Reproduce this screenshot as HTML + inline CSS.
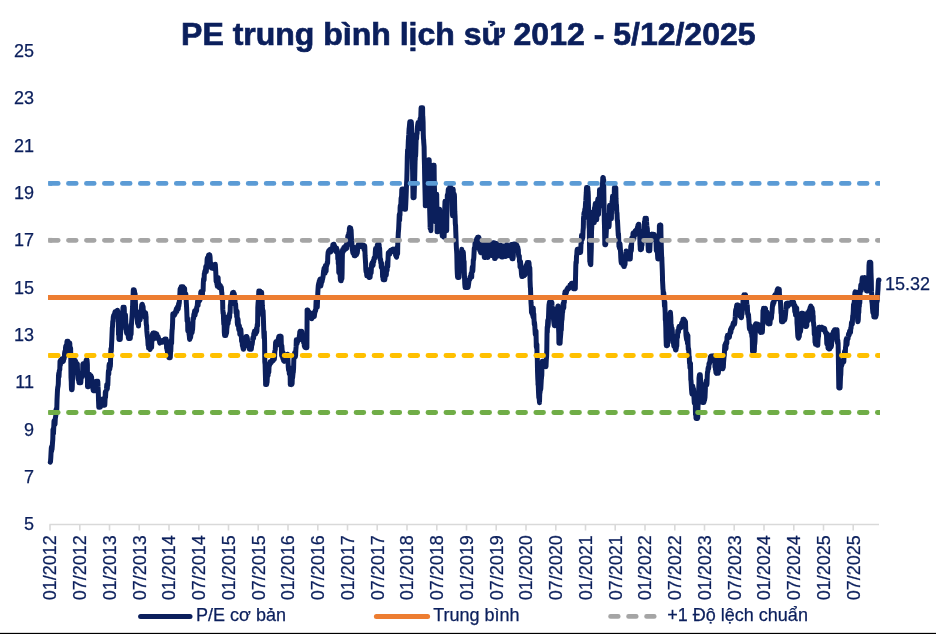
<!DOCTYPE html>
<html lang="vi"><head><meta charset="utf-8"><title>PE trung bình lịch sử</title>
<style>
html,body{margin:0;padding:0;background:#fff;}
body{width:936px;height:634px;overflow:hidden;position:relative;font-family:"Liberation Sans",sans-serif;}
svg{position:absolute;left:0;top:0;display:block;will-change:transform;}
text{font-family:"Liberation Sans",sans-serif;fill:#0b1f5c;stroke:#0b1f5c;stroke-width:0.25px;}
</style></head><body>
<svg width="936" height="634" viewBox="0 0 936 634">
<defs><clipPath id="cp"><rect x="48" y="0" width="832" height="634"/></clipPath></defs>
<rect x="0" y="0" width="936" height="634" fill="#ffffff"/>
<text x="468.3" y="44.6" text-anchor="middle" font-size="32" font-weight="bold" style="stroke-width:0.7px">PE trung bình lịch sử 2012 - 5/12/2025</text>
<text x="34" text-anchor="end" y="530.1" font-size="18">5</text>
<text x="34" text-anchor="end" y="482.8" font-size="18">7</text>
<text x="34" text-anchor="end" y="435.5" font-size="18">9</text>
<text x="34" text-anchor="end" y="388.2" font-size="18">11</text>
<text x="34" text-anchor="end" y="340.9" font-size="18">13</text>
<text x="34" text-anchor="end" y="293.6" font-size="18">15</text>
<text x="34" text-anchor="end" y="246.3" font-size="18">17</text>
<text x="34" text-anchor="end" y="199.0" font-size="18">19</text>
<text x="34" text-anchor="end" y="151.7" font-size="18">21</text>
<text x="34" text-anchor="end" y="104.4" font-size="18">23</text>
<text x="34" text-anchor="end" y="57.1" font-size="18">25</text>
<path d="M49.5,524.5 H879" stroke="#d9d9d9" stroke-width="1.6" fill="none"/>
<path d="M50.0,524.5 V530.5" stroke="#d9d9d9" stroke-width="1.6" fill="none"/>
<text transform="translate(56.4,600.3) rotate(-90)" font-size="18">01/2012</text>
<path d="M79.8,524.5 V530.5" stroke="#d9d9d9" stroke-width="1.6" fill="none"/>
<text transform="translate(86.2,600.3) rotate(-90)" font-size="18">07/2012</text>
<path d="M109.5,524.5 V530.5" stroke="#d9d9d9" stroke-width="1.6" fill="none"/>
<text transform="translate(115.9,600.3) rotate(-90)" font-size="18">01/2013</text>
<path d="M139.2,524.5 V530.5" stroke="#d9d9d9" stroke-width="1.6" fill="none"/>
<text transform="translate(145.7,600.3) rotate(-90)" font-size="18">07/2013</text>
<path d="M169.0,524.5 V530.5" stroke="#d9d9d9" stroke-width="1.6" fill="none"/>
<text transform="translate(175.4,600.3) rotate(-90)" font-size="18">01/2014</text>
<path d="M198.8,524.5 V530.5" stroke="#d9d9d9" stroke-width="1.6" fill="none"/>
<text transform="translate(205.2,600.3) rotate(-90)" font-size="18">07/2014</text>
<path d="M228.5,524.5 V530.5" stroke="#d9d9d9" stroke-width="1.6" fill="none"/>
<text transform="translate(234.9,600.3) rotate(-90)" font-size="18">01/2015</text>
<path d="M258.2,524.5 V530.5" stroke="#d9d9d9" stroke-width="1.6" fill="none"/>
<text transform="translate(264.6,600.3) rotate(-90)" font-size="18">07/2015</text>
<path d="M288.0,524.5 V530.5" stroke="#d9d9d9" stroke-width="1.6" fill="none"/>
<text transform="translate(294.4,600.3) rotate(-90)" font-size="18">01/2016</text>
<path d="M317.8,524.5 V530.5" stroke="#d9d9d9" stroke-width="1.6" fill="none"/>
<text transform="translate(324.1,600.3) rotate(-90)" font-size="18">07/2016</text>
<path d="M347.5,524.5 V530.5" stroke="#d9d9d9" stroke-width="1.6" fill="none"/>
<text transform="translate(353.9,600.3) rotate(-90)" font-size="18">01/2017</text>
<path d="M377.2,524.5 V530.5" stroke="#d9d9d9" stroke-width="1.6" fill="none"/>
<text transform="translate(383.6,600.3) rotate(-90)" font-size="18">07/2017</text>
<path d="M407.0,524.5 V530.5" stroke="#d9d9d9" stroke-width="1.6" fill="none"/>
<text transform="translate(413.4,600.3) rotate(-90)" font-size="18">01/2018</text>
<path d="M436.8,524.5 V530.5" stroke="#d9d9d9" stroke-width="1.6" fill="none"/>
<text transform="translate(443.1,600.3) rotate(-90)" font-size="18">07/2018</text>
<path d="M466.5,524.5 V530.5" stroke="#d9d9d9" stroke-width="1.6" fill="none"/>
<text transform="translate(472.9,600.3) rotate(-90)" font-size="18">01/2019</text>
<path d="M496.2,524.5 V530.5" stroke="#d9d9d9" stroke-width="1.6" fill="none"/>
<text transform="translate(502.6,600.3) rotate(-90)" font-size="18">07/2019</text>
<path d="M526.0,524.5 V530.5" stroke="#d9d9d9" stroke-width="1.6" fill="none"/>
<text transform="translate(532.4,600.3) rotate(-90)" font-size="18">01/2020</text>
<path d="M555.8,524.5 V530.5" stroke="#d9d9d9" stroke-width="1.6" fill="none"/>
<text transform="translate(562.1,600.3) rotate(-90)" font-size="18">07/2020</text>
<path d="M585.5,524.5 V530.5" stroke="#d9d9d9" stroke-width="1.6" fill="none"/>
<text transform="translate(591.9,600.3) rotate(-90)" font-size="18">01/2021</text>
<path d="M615.2,524.5 V530.5" stroke="#d9d9d9" stroke-width="1.6" fill="none"/>
<text transform="translate(621.6,600.3) rotate(-90)" font-size="18">07/2021</text>
<path d="M645.0,524.5 V530.5" stroke="#d9d9d9" stroke-width="1.6" fill="none"/>
<text transform="translate(651.4,600.3) rotate(-90)" font-size="18">01/2022</text>
<path d="M674.8,524.5 V530.5" stroke="#d9d9d9" stroke-width="1.6" fill="none"/>
<text transform="translate(681.1,600.3) rotate(-90)" font-size="18">07/2022</text>
<path d="M704.5,524.5 V530.5" stroke="#d9d9d9" stroke-width="1.6" fill="none"/>
<text transform="translate(710.9,600.3) rotate(-90)" font-size="18">01/2023</text>
<path d="M734.2,524.5 V530.5" stroke="#d9d9d9" stroke-width="1.6" fill="none"/>
<text transform="translate(740.6,600.3) rotate(-90)" font-size="18">07/2023</text>
<path d="M764.0,524.5 V530.5" stroke="#d9d9d9" stroke-width="1.6" fill="none"/>
<text transform="translate(770.4,600.3) rotate(-90)" font-size="18">01/2024</text>
<path d="M793.8,524.5 V530.5" stroke="#d9d9d9" stroke-width="1.6" fill="none"/>
<text transform="translate(800.1,600.3) rotate(-90)" font-size="18">07/2024</text>
<path d="M823.5,524.5 V530.5" stroke="#d9d9d9" stroke-width="1.6" fill="none"/>
<text transform="translate(829.9,600.3) rotate(-90)" font-size="18">01/2025</text>
<path d="M853.2,524.5 V530.5" stroke="#d9d9d9" stroke-width="1.6" fill="none"/>
<text transform="translate(859.6,600.3) rotate(-90)" font-size="18">07/2025</text>
<path d="M50.3,462.1 L50.5,461.6 L50.8,457.6 L51.0,453.7 L51.3,448.1 L51.5,446.8 L51.5,451.6 L51.8,449.6 L52.0,449.6 L52.3,445.7 L52.5,442.8 L52.8,439.2 L53.0,429.4 L53.2,432.6 L53.3,433.7 L53.5,433.5 L53.8,426.2 L54.0,421.3 L54.3,420.4 L54.5,420.4 L54.8,422.6 L55.0,422.5 L55.0,424.3 L55.3,418.6 L55.5,417.3 L55.8,415.6 L56.0,409.6 L56.3,413.3 L56.5,410.0 L56.8,409.0 L57.0,400.6 L57.3,393.8 L57.5,389.9 L57.8,387.1 L58.0,386.8 L58.3,384.0 L58.4,380.4 L58.5,375.8 L58.8,373.1 L59.0,376.9 L59.3,370.9 L59.5,370.2 L59.8,369.5 L60.0,361.2 L60.3,360.9 L60.4,365.2 L60.5,360.3 L60.8,360.0 L61.0,359.8 L61.3,359.5 L61.5,360.5 L61.8,360.5 L62.0,358.7 L62.3,360.2 L62.5,360.9 L62.8,361.7 L63.0,361.6 L63.3,361.3 L63.5,360.6 L63.8,357.9 L64.0,359.0 L64.3,357.3 L64.5,356.5 L64.5,354.0 L64.8,351.9 L65.0,351.1 L65.3,355.5 L65.5,347.9 L65.8,345.9 L66.0,347.1 L66.3,351.8 L66.5,351.5 L66.8,343.6 L67.0,341.3 L67.3,341.3 L67.5,341.3 L67.8,341.3 L68.0,341.3 L68.0,343.2 L68.3,342.9 L68.5,342.8 L68.8,343.1 L69.0,346.0 L69.2,346.0 L69.3,346.5 L69.5,348.7 L69.8,343.1 L70.0,350.8 L70.3,354.9 L70.5,356.6 L70.6,347.9 L70.8,358.5 L71.0,377.4 L71.3,382.6 L71.3,384.5 L71.5,389.7 L71.8,386.3 L72.0,389.7 L72.1,389.7 L72.3,386.4 L72.5,379.3 L72.8,373.2 L73.0,364.7 L73.1,366.3 L73.3,361.6 L73.5,360.1 L73.8,361.2 L74.0,361.0 L74.3,359.8 L74.5,361.8 L74.8,364.0 L75.0,362.7 L75.3,360.5 L75.5,361.3 L75.8,362.0 L76.0,362.3 L76.3,365.7 L76.5,363.0 L76.8,367.4 L77.0,363.8 L77.3,363.7 L77.5,369.5 L77.8,375.4 L78.0,378.7 L78.3,379.5 L78.5,380.0 L78.8,381.0 L79.0,382.7 L79.3,382.7 L79.5,382.7 L79.8,382.7 L80.0,382.7 L80.3,382.7 L80.5,382.7 L80.5,382.7 L80.8,382.7 L81.0,379.9 L81.3,376.5 L81.5,375.2 L81.8,377.1 L82.0,373.1 L82.3,372.7 L82.5,376.7 L82.8,364.5 L83.0,363.9 L83.0,364.2 L83.3,365.5 L83.5,365.8 L83.8,364.6 L84.0,365.5 L84.3,365.3 L84.5,363.6 L84.8,366.3 L85.0,365.9 L85.3,363.5 L85.5,362.6 L85.8,361.7 L86.0,361.2 L86.3,359.8 L86.5,359.8 L86.6,359.9 L86.8,359.8 L87.0,359.8 L87.3,363.2 L87.4,365.2 L87.5,386.7 L87.6,384.8 L87.8,384.0 L88.0,383.6 L88.3,385.7 L88.4,386.7 L88.5,379.9 L88.8,383.9 L89.0,377.6 L89.3,380.5 L89.5,374.3 L89.8,375.7 L90.0,378.8 L90.3,376.3 L90.4,375.9 L90.5,377.0 L90.8,376.4 L91.0,375.7 L91.3,378.1 L91.5,379.4 L91.6,376.9 L91.8,386.2 L92.0,380.1 L92.3,384.6 L92.5,383.8 L92.8,385.5 L93.0,389.3 L93.3,390.6 L93.5,390.7 L93.6,388.1 L93.8,385.8 L94.0,388.3 L94.3,388.0 L94.5,387.3 L94.8,385.7 L95.0,389.2 L95.3,390.0 L95.5,390.7 L95.8,386.4 L96.0,385.1 L96.3,381.3 L96.5,382.7 L96.7,385.0 L96.8,382.3 L97.0,384.2 L97.3,384.2 L97.5,382.7 L97.8,381.3 L97.9,383.1 L98.0,386.4 L98.3,390.9 L98.5,400.0 L98.8,407.3 L99.0,407.3 L99.3,407.3 L99.5,407.3 L99.8,407.3 L100.0,407.3 L100.0,407.3 L100.3,405.0 L100.5,406.9 L100.8,404.9 L101.0,403.2 L101.3,404.5 L101.4,401.9 L101.5,399.3 L101.8,399.3 L102.0,399.3 L102.3,399.3 L102.5,400.0 L102.6,399.3 L102.8,400.1 L103.0,403.1 L103.3,403.5 L103.5,405.2 L103.8,405.2 L103.9,405.2 L104.0,405.2 L104.3,405.2 L104.5,405.2 L104.8,405.2 L105.0,400.7 L105.1,398.9 L105.3,392.1 L105.5,397.7 L105.8,391.8 L106.0,391.6 L106.3,389.9 L106.5,388.5 L106.8,384.6 L107.0,384.3 L107.3,388.8 L107.5,384.6 L107.5,384.8 L107.8,385.1 L108.0,380.3 L108.3,372.9 L108.5,370.4 L108.8,374.1 L109.0,365.8 L109.3,364.0 L109.5,368.0 L109.8,369.0 L110.0,366.1 L110.3,366.5 L110.5,363.9 L110.6,358.1 L110.8,351.0 L111.0,348.5 L111.3,351.4 L111.5,345.7 L111.8,339.6 L112.0,334.8 L112.3,327.6 L112.5,326.9 L112.8,321.1 L113.0,321.6 L113.3,316.9 L113.5,316.2 L113.8,315.4 L114.0,314.7 L114.3,315.5 L114.5,315.2 L114.8,312.6 L115.0,311.9 L115.3,312.5 L115.5,311.9 L115.8,314.0 L116.0,314.8 L116.3,314.8 L116.5,313.7 L116.8,314.3 L117.0,313.8 L117.3,313.1 L117.5,310.3 L117.8,311.7 L118.0,316.1 L118.0,314.6 L118.3,319.8 L118.5,334.6 L118.8,333.3 L118.9,339.0 L119.0,339.4 L119.3,339.4 L119.5,339.4 L119.8,339.4 L120.0,339.4 L120.1,339.4 L120.3,339.4 L120.5,333.9 L120.8,330.9 L121.0,329.5 L121.3,329.5 L121.5,325.3 L121.8,321.2 L122.0,314.7 L122.3,312.1 L122.5,314.0 L122.8,311.2 L123.0,307.3 L123.0,307.3 L123.3,311.2 L123.5,311.2 L123.8,310.9 L124.0,307.3 L124.2,307.3 L124.3,309.9 L124.5,317.7 L124.8,318.7 L125.0,318.4 L125.3,321.2 L125.5,314.8 L125.8,322.6 L126.0,325.6 L126.3,324.5 L126.5,332.1 L126.7,333.5 L126.8,330.4 L127.0,329.0 L127.3,330.9 L127.5,332.1 L127.8,331.8 L128.1,330.7 L128.3,336.9 L128.6,338.4 L128.8,335.1 L129.1,333.0 L129.3,338.1 L129.6,338.4 L129.7,338.4 L129.8,338.4 L130.1,338.4 L130.3,338.4 L130.6,332.2 L130.8,331.7 L130.9,333.9 L131.1,334.2 L131.3,326.6 L131.6,322.2 L131.8,319.6 L132.1,315.7 L132.3,312.2 L132.6,306.5 L132.8,299.2 L133.1,296.7 L133.2,292.5 L133.3,289.8 L133.6,289.8 L133.8,289.8 L134.1,289.8 L134.3,290.3 L134.4,290.4 L134.6,292.8 L134.8,295.2 L135.1,293.7 L135.3,300.1 L135.6,307.4 L135.8,310.7 L136.1,311.7 L136.3,315.8 L136.6,314.3 L136.8,311.3 L137.1,317.8 L137.3,319.3 L137.6,323.6 L137.8,322.8 L138.1,320.4 L138.3,320.3 L138.5,326.1 L138.6,324.6 L138.8,318.2 L139.1,315.6 L139.3,317.9 L139.6,318.4 L139.8,316.9 L140.1,319.9 L140.3,318.2 L140.6,313.8 L140.8,312.6 L141.1,314.9 L141.3,312.4 L141.4,311.2 L141.6,305.9 L141.8,304.8 L142.1,305.1 L142.3,304.2 L142.6,305.8 L142.6,306.0 L142.8,307.6 L143.1,306.7 L143.3,311.1 L143.6,312.0 L143.8,311.8 L144.1,311.4 L144.3,314.6 L144.6,314.5 L144.8,316.0 L145.1,317.5 L145.3,316.3 L145.6,312.8 L145.8,314.9 L146.1,317.1 L146.1,320.8 L146.3,324.4 L146.6,325.6 L146.8,330.7 L147.1,334.0 L147.3,336.1 L147.6,338.2 L147.8,339.7 L148.1,345.4 L148.3,343.8 L148.6,345.8 L148.6,347.9 L148.8,344.4 L149.1,345.9 L149.3,345.4 L149.6,346.3 L149.8,348.8 L150.1,349.5 L150.3,348.1 L150.6,346.3 L150.8,341.5 L151.1,347.3 L151.3,346.7 L151.6,347.5 L151.8,342.0 L152.1,340.3 L152.3,334.3 L152.6,337.5 L152.8,339.4 L153.1,332.9 L153.3,332.9 L153.6,334.0 L153.7,332.9 L153.8,332.9 L154.1,332.9 L154.3,332.9 L154.6,332.9 L154.8,332.9 L154.9,332.9 L155.1,334.2 L155.3,335.7 L155.6,337.7 L155.8,338.2 L156.1,335.9 L156.3,335.4 L156.6,334.3 L156.8,334.2 L157.1,335.5 L157.3,336.8 L157.6,338.6 L157.8,336.3 L158.1,336.5 L158.3,337.6 L158.6,338.6 L158.8,339.2 L159.1,340.2 L159.3,339.8 L159.6,342.1 L159.8,343.1 L159.9,343.0 L160.1,342.1 L160.3,342.2 L160.6,341.1 L160.8,341.4 L161.1,341.2 L161.1,341.1 L161.3,341.3 L161.6,341.8 L161.8,340.6 L162.1,340.5 L162.3,340.5 L162.6,341.4 L162.8,342.1 L163.1,341.6 L163.3,340.2 L163.6,340.1 L163.8,340.1 L164.1,341.1 L164.3,341.0 L164.6,339.6 L164.8,339.0 L165.0,339.0 L165.1,339.0 L165.3,339.0 L165.6,339.0 L165.8,339.0 L166.1,339.0 L166.2,340.5 L166.3,339.7 L166.6,348.5 L166.8,346.1 L167.1,350.4 L167.3,350.1 L167.6,354.1 L167.8,344.5 L168.1,345.2 L168.3,349.8 L168.6,354.3 L168.8,357.7 L169.1,357.7 L169.1,357.7 L169.3,357.7 L169.6,357.7 L169.8,357.7 L170.1,357.7 L170.3,357.7 L170.6,350.5 L170.8,351.5 L171.1,342.5 L171.3,339.9 L171.6,343.5 L171.8,335.5 L172.1,329.9 L172.3,329.0 L172.6,322.6 L172.8,314.1 L173.1,315.0 L173.3,315.8 L173.6,315.9 L173.8,313.5 L174.1,315.6 L174.3,315.3 L174.6,314.9 L174.8,314.0 L175.1,312.2 L175.3,313.8 L175.6,311.4 L175.8,311.9 L176.1,310.3 L176.3,308.8 L176.6,310.2 L176.8,311.6 L176.9,311.0 L177.1,307.8 L177.3,309.1 L177.6,306.9 L177.8,306.3 L178.1,309.1 L178.3,308.7 L178.6,303.6 L178.8,306.3 L179.1,303.8 L179.3,302.9 L179.6,297.6 L179.8,295.7 L180.1,288.9 L180.3,295.2 L180.6,297.2 L180.8,290.0 L181.1,286.7 L181.3,286.7 L181.4,286.7 L181.6,286.7 L181.8,286.7 L182.1,286.7 L182.3,286.7 L182.6,286.7 L182.6,286.7 L182.8,286.7 L183.1,286.7 L183.3,287.8 L183.6,289.0 L183.8,288.8 L184.1,287.9 L184.3,289.0 L184.6,288.6 L184.8,293.9 L185.0,295.4 L185.1,293.6 L185.3,293.5 L185.6,293.6 L185.8,293.9 L186.1,297.3 L186.3,302.6 L186.6,307.7 L186.8,312.0 L187.1,321.1 L187.3,317.5 L187.6,319.0 L187.8,331.0 L188.1,322.4 L188.3,323.2 L188.6,327.2 L188.8,330.6 L189.1,334.5 L189.3,335.7 L189.6,339.4 L189.6,339.4 L189.8,339.4 L190.1,337.4 L190.3,336.9 L190.6,337.6 L190.8,335.4 L191.1,331.5 L191.3,334.1 L191.6,330.3 L191.8,331.9 L192.1,332.5 L192.3,330.6 L192.6,329.4 L192.8,325.8 L193.1,318.2 L193.3,317.8 L193.6,318.6 L193.8,314.8 L194.1,313.4 L194.3,314.5 L194.6,310.9 L194.8,312.2 L195.1,315.2 L195.3,311.7 L195.6,310.8 L195.8,309.4 L196.1,311.8 L196.3,310.5 L196.6,310.6 L196.8,307.1 L197.1,306.2 L197.3,305.3 L197.6,300.9 L197.8,304.7 L198.1,305.5 L198.3,300.3 L198.6,302.1 L198.8,301.1 L199.1,301.4 L199.3,301.2 L199.6,296.9 L199.8,296.7 L200.1,299.9 L200.3,297.3 L200.6,294.5 L200.8,292.1 L201.1,291.5 L201.3,292.3 L201.6,296.1 L201.8,295.5 L202.1,294.6 L202.3,295.9 L202.5,294.3 L202.6,290.7 L202.8,291.0 L203.1,290.6 L203.3,284.0 L203.6,278.8 L203.8,280.2 L204.1,280.2 L204.3,273.9 L204.6,273.4 L204.8,271.2 L205.1,272.8 L205.3,270.9 L205.6,269.2 L205.8,266.5 L206.1,269.3 L206.3,271.5 L206.6,265.7 L206.8,266.0 L207.1,259.6 L207.3,258.1 L207.6,258.2 L207.6,260.7 L207.8,258.0 L208.1,257.0 L208.3,256.7 L208.6,255.0 L208.8,255.0 L209.1,255.0 L209.3,258.3 L209.6,255.9 L209.8,255.0 L210.1,257.4 L210.3,262.0 L210.6,262.7 L210.8,267.5 L210.9,267.4 L211.1,266.4 L211.3,267.6 L211.6,266.2 L211.8,266.1 L212.1,266.8 L212.1,268.2 L212.3,267.6 L212.6,267.6 L212.8,266.1 L213.1,266.5 L213.3,268.5 L213.6,266.3 L213.8,267.8 L214.1,266.4 L214.1,265.8 L214.3,265.7 L214.6,266.4 L214.8,264.4 L215.1,264.3 L215.3,264.3 L215.6,269.1 L215.8,272.5 L216.1,281.3 L216.3,280.7 L216.6,280.5 L216.8,283.7 L217.1,284.3 L217.3,286.3 L217.6,284.1 L217.8,284.6 L218.1,277.4 L218.3,281.9 L218.6,283.0 L218.8,285.4 L219.1,287.6 L219.3,287.7 L219.6,287.0 L219.8,286.3 L220.1,285.6 L220.3,285.4 L220.6,287.1 L220.8,287.3 L221.1,287.7 L221.3,287.3 L221.6,291.0 L221.6,291.6 L221.8,292.7 L222.1,298.2 L222.3,300.0 L222.6,299.0 L222.8,309.4 L223.1,313.5 L223.3,312.4 L223.6,320.5 L223.8,324.3 L224.1,321.1 L224.3,332.2 L224.6,335.4 L224.7,335.4 L224.8,335.4 L225.1,335.4 L225.3,334.5 L225.6,335.4 L225.8,335.4 L225.9,334.5 L226.1,334.5 L226.3,332.7 L226.6,333.0 L226.8,328.8 L227.1,326.7 L227.3,317.2 L227.6,316.9 L227.8,320.0 L228.1,323.6 L228.3,318.9 L228.6,316.2 L228.8,320.1 L229.1,314.8 L229.3,314.7 L229.6,317.4 L229.8,312.4 L230.1,312.9 L230.3,305.6 L230.6,303.8 L230.8,300.9 L231.1,299.2 L231.3,301.2 L231.6,303.9 L231.8,297.5 L232.1,294.7 L232.3,294.6 L232.6,292.7 L232.8,293.6 L233.0,294.5 L233.1,293.6 L233.3,296.0 L233.6,292.3 L233.8,296.9 L234.1,293.4 L234.3,294.3 L234.6,295.8 L234.8,297.6 L235.1,303.0 L235.3,304.4 L235.6,304.2 L235.8,307.5 L236.1,313.1 L236.3,312.1 L236.6,313.2 L236.7,316.9 L236.8,316.0 L237.1,311.2 L237.3,322.6 L237.6,325.0 L237.8,318.5 L238.1,319.8 L238.3,322.9 L238.6,327.4 L238.8,329.7 L239.1,328.3 L239.3,325.4 L239.6,328.4 L239.8,334.3 L240.1,330.8 L240.3,329.6 L240.6,333.2 L240.8,329.2 L241.1,333.3 L241.3,335.9 L241.6,341.3 L241.8,341.1 L242.1,341.2 L242.3,343.8 L242.4,346.0 L242.6,345.6 L242.8,346.8 L243.1,348.2 L243.3,349.2 L243.6,349.2 L243.6,349.2 L243.8,347.2 L244.1,340.6 L244.3,346.9 L244.6,343.1 L244.8,342.4 L245.1,343.2 L245.3,337.8 L245.6,339.4 L245.8,338.5 L246.1,336.5 L246.2,336.5 L246.3,338.1 L246.6,336.5 L246.8,336.8 L247.1,337.2 L247.3,338.2 L247.4,338.7 L247.6,342.2 L247.8,341.3 L248.1,345.0 L248.3,343.3 L248.6,346.8 L248.8,344.2 L249.1,345.7 L249.3,349.2 L249.4,349.2 L249.6,349.2 L249.8,347.9 L250.1,347.4 L250.3,348.1 L250.6,349.2 L250.6,349.2 L250.8,349.2 L251.1,347.8 L251.3,349.2 L251.6,346.3 L251.8,343.2 L252.1,344.8 L252.3,343.1 L252.6,340.8 L252.8,338.3 L253.1,337.2 L253.3,338.5 L253.6,338.2 L253.8,333.4 L254.1,334.4 L254.3,334.0 L254.4,331.3 L254.6,333.5 L254.8,332.3 L255.1,331.3 L255.3,332.6 L255.6,334.0 L255.8,331.1 L256.1,331.2 L256.3,328.7 L256.6,332.2 L256.8,331.2 L256.9,331.5 L257.1,326.7 L257.3,324.3 L257.6,326.0 L257.8,308.0 L258.1,302.8 L258.3,301.1 L258.6,296.1 L258.8,291.0 L259.1,297.5 L259.3,295.3 L259.6,292.1 L259.8,293.1 L260.0,291.0 L260.1,292.6 L260.3,292.0 L260.6,293.4 L260.8,297.1 L261.1,297.0 L261.3,293.8 L261.6,292.1 L261.8,297.7 L262.0,300.9 L262.1,297.7 L262.3,305.5 L262.6,310.7 L262.8,316.0 L263.1,310.5 L263.3,315.9 L263.6,325.2 L263.8,331.9 L264.1,338.2 L264.3,331.7 L264.5,338.1 L264.6,343.0 L264.8,361.9 L265.1,364.5 L265.3,372.3 L265.6,382.1 L265.6,384.6 L265.8,384.3 L266.1,384.6 L266.3,384.6 L266.6,384.6 L266.8,383.3 L267.1,382.2 L267.3,377.8 L267.6,371.1 L267.8,376.0 L268.1,375.4 L268.3,371.2 L268.6,370.6 L268.8,372.4 L269.1,365.6 L269.3,364.0 L269.5,364.4 L269.6,365.5 L269.8,363.9 L270.1,361.8 L270.3,363.1 L270.6,363.3 L270.8,363.0 L271.1,362.4 L271.3,362.6 L271.6,361.8 L271.8,360.6 L272.1,360.3 L272.3,359.9 L272.6,359.7 L272.8,358.6 L273.1,360.8 L273.3,357.6 L273.6,359.4 L273.8,354.5 L274.1,355.7 L274.3,359.4 L274.6,356.9 L274.8,351.4 L275.1,350.3 L275.3,349.4 L275.6,342.6 L275.8,341.9 L276.1,342.8 L276.3,342.0 L276.6,342.5 L276.8,343.9 L277.1,344.6 L277.3,345.0 L277.6,344.3 L277.8,341.7 L278.1,340.4 L278.3,338.8 L278.6,337.6 L278.8,336.8 L279.0,336.3 L279.1,336.3 L279.3,336.3 L279.6,336.3 L279.8,336.3 L280.1,337.5 L280.2,336.8 L280.3,343.8 L280.6,336.3 L280.8,337.4 L281.1,336.3 L281.3,343.6 L281.6,355.8 L281.8,345.4 L282.1,349.4 L282.3,354.0 L282.6,354.5 L282.8,358.7 L283.1,352.5 L283.3,359.3 L283.6,360.7 L283.8,360.8 L284.1,360.3 L284.3,361.4 L284.5,360.5 L284.6,360.9 L284.8,359.2 L285.1,355.2 L285.3,355.4 L285.6,356.4 L285.8,358.0 L286.1,355.1 L286.3,354.8 L286.6,355.5 L286.6,355.4 L286.8,356.9 L287.1,358.2 L287.3,355.7 L287.6,354.2 L287.8,355.4 L288.1,363.5 L288.3,367.3 L288.6,370.3 L288.8,368.0 L289.1,367.5 L289.3,374.0 L289.6,372.6 L289.8,369.6 L290.1,371.8 L290.3,384.6 L290.4,384.6 L290.6,384.6 L290.8,384.6 L291.1,384.6 L291.3,383.1 L291.6,384.6 L291.6,384.6 L291.8,380.0 L292.1,383.9 L292.3,378.7 L292.6,377.8 L292.8,375.7 L293.1,372.6 L293.3,372.4 L293.6,367.8 L293.8,360.2 L294.1,356.7 L294.3,354.7 L294.6,352.8 L294.8,354.9 L295.1,355.5 L295.3,356.9 L295.6,355.4 L295.8,350.4 L296.1,346.9 L296.3,339.7 L296.6,340.3 L296.8,342.7 L297.1,343.6 L297.3,340.9 L297.6,339.7 L297.8,341.5 L298.1,340.0 L298.3,340.4 L298.6,340.1 L298.8,338.7 L299.1,340.1 L299.3,336.4 L299.6,334.4 L299.8,331.9 L300.1,331.3 L300.3,333.3 L300.4,335.3 L300.6,334.0 L300.8,333.9 L301.1,334.3 L301.3,334.5 L301.6,335.7 L301.6,331.8 L301.8,331.3 L302.1,334.3 L302.3,339.5 L302.6,339.2 L302.8,336.6 L303.1,337.0 L303.3,337.0 L303.6,337.1 L303.6,342.4 L303.8,340.9 L304.1,341.7 L304.3,346.0 L304.6,346.5 L304.8,347.1 L305.1,345.1 L305.3,346.1 L305.6,347.7 L305.8,347.7 L306.1,347.7 L306.3,347.7 L306.3,347.7 L306.6,347.6 L306.8,347.7 L306.9,347.7 L307.1,315.9 L307.1,310.0 L307.3,310.8 L307.6,310.0 L307.7,310.0 L307.8,311.0 L308.1,314.4 L308.3,314.6 L308.6,314.5 L308.8,311.4 L309.1,315.6 L309.3,315.2 L309.6,314.9 L309.8,313.1 L310.1,314.0 L310.3,312.9 L310.6,314.4 L310.8,316.2 L311.1,316.7 L311.3,317.6 L311.6,316.6 L311.8,318.7 L312.1,318.0 L312.3,316.3 L312.6,316.8 L312.8,316.2 L313.0,315.2 L313.1,315.5 L313.3,316.2 L313.6,312.8 L313.8,312.9 L314.1,316.5 L314.3,316.4 L314.6,314.0 L314.8,312.9 L315.1,311.3 L315.3,310.1 L315.6,311.0 L315.8,309.2 L316.1,300.9 L316.2,302.9 L316.3,301.0 L316.6,303.8 L316.8,300.4 L317.1,300.5 L317.3,307.2 L317.6,298.9 L317.8,293.1 L318.1,287.9 L318.3,285.4 L318.6,283.9 L318.8,283.1 L319.1,282.2 L319.3,281.0 L319.6,280.4 L319.8,279.7 L320.0,279.2 L320.1,279.1 L320.3,280.5 L320.6,283.4 L320.8,286.1 L321.1,284.6 L321.3,283.1 L321.6,281.4 L321.8,282.1 L322.1,281.5 L322.3,280.0 L322.6,279.1 L322.8,278.0 L323.1,276.5 L323.3,274.3 L323.6,270.9 L323.8,270.3 L324.1,268.2 L324.3,271.4 L324.6,272.1 L324.8,268.3 L325.0,272.1 L325.1,273.2 L325.3,265.8 L325.6,271.0 L325.8,270.9 L326.1,271.1 L326.3,266.1 L326.6,265.9 L326.8,265.1 L327.1,263.5 L327.3,262.1 L327.6,263.3 L327.8,256.4 L328.1,252.6 L328.3,251.7 L328.6,251.2 L328.8,250.6 L329.1,251.5 L329.3,252.2 L329.6,252.0 L329.8,250.3 L330.1,249.4 L330.3,251.4 L330.6,252.0 L330.8,250.8 L331.1,249.1 L331.3,251.5 L331.6,248.5 L331.8,248.9 L332.1,249.9 L332.3,247.6 L332.6,247.8 L332.8,244.8 L333.1,246.1 L333.3,245.8 L333.6,244.3 L333.8,245.2 L334.0,244.3 L334.1,246.4 L334.3,245.3 L334.6,245.9 L334.8,247.4 L335.1,247.3 L335.3,248.7 L335.6,248.1 L335.8,250.7 L336.1,251.0 L336.3,252.0 L336.6,247.9 L336.8,251.8 L337.1,252.8 L337.3,250.0 L337.6,252.1 L337.7,255.0 L337.8,259.3 L338.1,255.8 L338.3,263.9 L338.6,263.4 L338.8,272.6 L339.1,270.3 L339.3,272.5 L339.6,270.7 L339.8,267.7 L340.1,274.6 L340.3,278.8 L340.6,280.7 L340.8,280.7 L341.1,280.7 L341.1,277.7 L341.3,277.3 L341.6,275.9 L341.8,274.6 L341.9,278.9 L342.1,273.0 L342.3,259.3 L342.5,250.2 L342.6,249.6 L342.8,250.3 L343.1,251.5 L343.3,251.7 L343.6,249.7 L343.8,247.4 L344.1,249.6 L344.3,249.2 L344.6,250.0 L344.8,247.2 L345.1,247.0 L345.3,247.2 L345.6,245.7 L345.8,245.5 L346.1,247.0 L346.3,248.7 L346.6,248.5 L346.7,247.2 L346.8,242.4 L347.1,243.9 L347.3,245.7 L347.6,243.5 L347.8,236.1 L348.1,238.4 L348.3,239.2 L348.6,238.1 L348.8,233.1 L349.1,232.1 L349.3,232.0 L349.4,228.7 L349.6,227.6 L349.8,227.6 L350.1,227.8 L350.3,228.0 L350.6,230.2 L350.6,228.0 L350.8,229.3 L351.1,230.1 L351.3,234.5 L351.6,241.5 L351.8,239.8 L352.1,247.7 L352.3,249.4 L352.5,250.8 L352.6,249.8 L352.8,252.9 L353.1,251.5 L353.3,250.5 L353.6,247.1 L353.8,251.4 L354.1,255.7 L354.3,255.7 L354.4,255.7 L354.6,255.7 L354.8,255.7 L355.1,254.4 L355.3,255.7 L355.6,255.0 L355.6,253.3 L355.8,252.2 L356.1,250.9 L356.3,253.2 L356.6,254.7 L356.8,250.3 L357.1,252.2 L357.3,253.0 L357.6,250.1 L357.8,246.3 L358.1,245.2 L358.3,244.6 L358.6,246.0 L358.8,245.1 L359.1,244.3 L359.3,244.3 L359.4,244.3 L359.6,244.3 L359.8,244.3 L360.1,244.3 L360.3,244.3 L360.6,244.3 L360.6,245.3 L360.8,246.2 L361.1,246.5 L361.3,246.5 L361.6,244.4 L361.8,244.4 L362.1,244.4 L362.3,244.6 L362.6,245.4 L362.8,244.9 L363.1,244.9 L363.3,245.1 L363.6,245.2 L363.8,245.3 L364.0,249.7 L364.1,249.4 L364.3,247.0 L364.6,245.7 L364.8,247.2 L365.1,256.0 L365.3,258.8 L365.6,263.5 L365.8,269.2 L366.1,272.1 L366.3,269.0 L366.6,273.4 L366.8,275.8 L367.1,269.7 L367.3,271.0 L367.6,269.5 L367.7,272.8 L367.8,275.8 L368.1,274.4 L368.3,273.4 L368.6,276.4 L368.8,277.2 L368.9,277.4 L369.1,275.1 L369.3,277.1 L369.6,277.4 L369.8,277.4 L370.1,277.2 L370.3,274.8 L370.6,271.7 L370.8,272.7 L371.1,273.0 L371.3,270.1 L371.6,263.9 L371.8,265.6 L372.1,262.8 L372.3,263.8 L372.6,263.0 L372.8,265.8 L373.1,265.1 L373.3,260.9 L373.6,259.9 L373.8,261.9 L374.1,258.1 L374.3,257.5 L374.6,258.6 L374.8,258.1 L375.1,257.3 L375.3,251.9 L375.6,248.4 L375.8,249.5 L376.1,250.1 L376.3,253.6 L376.6,250.0 L376.8,251.2 L377.1,250.8 L377.3,245.1 L377.6,244.3 L377.7,244.3 L377.8,244.3 L378.1,244.3 L378.3,244.8 L378.6,244.3 L378.8,245.2 L378.9,244.3 L379.1,244.3 L379.3,248.4 L379.6,248.1 L379.8,251.7 L380.1,259.4 L380.3,259.1 L380.6,259.1 L380.8,263.0 L381.1,262.1 L381.3,267.5 L381.6,263.0 L381.8,268.0 L382.1,267.6 L382.3,267.1 L382.6,276.8 L382.8,273.9 L383.1,279.7 L383.3,279.7 L383.4,279.7 L383.6,279.7 L383.8,279.7 L384.1,279.7 L384.3,279.7 L384.6,279.7 L384.6,279.7 L384.8,279.7 L385.1,277.2 L385.3,272.9 L385.6,273.5 L385.8,272.8 L386.1,271.2 L386.3,275.1 L386.6,269.5 L386.8,268.3 L387.1,270.5 L387.3,262.3 L387.6,264.1 L387.8,266.7 L388.1,257.9 L388.3,252.9 L388.6,252.7 L388.8,252.4 L389.1,252.1 L389.3,251.8 L389.6,251.9 L389.8,254.3 L390.1,251.3 L390.3,251.3 L390.6,250.4 L390.8,251.1 L391.1,250.2 L391.3,250.2 L391.6,250.6 L391.8,251.3 L392.1,250.4 L392.3,250.3 L392.6,249.4 L392.7,249.7 L392.8,249.3 L393.1,249.3 L393.3,249.3 L393.6,249.3 L393.8,251.7 L393.9,251.1 L394.1,249.3 L394.3,250.8 L394.6,249.5 L394.8,249.3 L395.1,249.3 L395.3,253.1 L395.6,255.1 L395.8,255.7 L396.1,255.0 L396.1,254.0 L396.3,256.9 L396.6,257.1 L396.8,255.2 L397.1,248.2 L397.3,246.7 L397.6,253.8 L397.8,242.6 L398.1,237.4 L398.3,233.0 L398.6,229.6 L398.8,226.0 L399.1,218.7 L399.3,214.3 L399.6,220.3 L399.8,214.0 L400.0,215.3 L400.1,207.8 L400.3,205.7 L400.6,205.1 L400.8,206.2 L401.1,197.9 L401.3,197.9 L401.6,195.9 L401.8,189.4 L401.9,190.5 L402.1,189.0 L402.3,189.0 L402.6,189.0 L402.8,189.0 L403.1,189.0 L403.1,189.0 L403.3,189.0 L403.6,189.6 L403.8,199.2 L404.1,202.3 L404.3,209.3 L404.6,207.0 L404.8,205.7 L405.1,209.3 L405.3,209.3 L405.5,209.3 L405.6,207.3 L405.8,203.4 L406.1,196.4 L406.3,190.9 L406.6,182.7 L406.8,179.3 L407.1,167.9 L407.3,157.2 L407.6,149.7 L407.8,153.3 L408.1,147.3 L408.3,141.3 L408.6,136.7 L408.8,134.4 L409.1,128.6 L409.3,127.4 L409.6,124.1 L409.8,121.8 L410.1,121.8 L410.1,121.8 L410.3,121.8 L410.6,121.8 L410.8,121.9 L411.1,123.4 L411.3,121.8 L411.6,126.6 L411.8,136.7 L412.1,152.5 L412.2,153.6 L412.3,158.3 L412.6,171.7 L412.8,184.3 L413.0,197.7 L413.1,196.1 L413.3,197.7 L413.6,195.8 L413.8,189.8 L414.0,197.1 L414.1,197.6 L414.3,190.5 L414.6,181.6 L414.8,174.2 L415.1,160.4 L415.2,159.9 L415.3,155.8 L415.6,156.2 L415.8,151.9 L416.1,140.4 L416.3,134.6 L416.5,139.2 L416.6,138.5 L416.8,134.7 L417.1,133.6 L417.3,129.4 L417.6,125.4 L417.8,124.2 L418.1,122.5 L418.1,127.4 L418.3,125.5 L418.6,127.5 L418.7,129.4 L418.8,128.5 L418.9,127.6 L419.1,126.7 L419.3,126.7 L419.5,126.7 L419.6,124.5 L419.8,122.7 L420.1,118.8 L420.3,123.8 L420.6,122.1 L420.8,116.7 L421.1,107.8 L421.3,107.8 L421.6,107.8 L421.7,107.8 L421.8,107.8 L422.1,107.8 L422.3,107.8 L422.6,107.8 L422.7,116.8 L422.8,116.1 L423.1,122.1 L423.3,134.8 L423.5,139.5 L423.6,139.5 L423.8,143.1 L424.1,146.9 L424.3,159.3 L424.5,166.2 L424.6,172.9 L424.8,182.7 L425.1,195.0 L425.3,203.6 L425.3,205.7 L425.6,201.6 L425.8,205.0 L425.9,205.7 L426.1,205.7 L426.3,191.8 L426.6,185.9 L426.8,172.2 L427.1,167.8 L427.3,162.5 L427.6,167.6 L427.8,171.8 L428.1,165.7 L428.3,161.1 L428.6,159.8 L428.6,161.8 L428.8,164.9 L429.1,161.2 L429.2,159.8 L429.3,165.7 L429.6,195.9 L429.6,207.1 L429.8,214.4 L430.1,224.5 L430.1,227.9 L430.3,221.9 L430.6,227.7 L430.8,224.7 L430.9,230.7 L431.1,214.0 L431.3,198.2 L431.6,188.9 L431.6,185.0 L431.8,186.8 L432.1,183.2 L432.3,175.2 L432.6,175.4 L432.8,174.8 L433.1,165.3 L433.2,169.5 L433.3,169.9 L433.6,170.4 L433.8,165.3 L434.0,165.3 L434.1,165.3 L434.3,184.3 L434.6,192.7 L434.6,194.1 L434.8,200.6 L435.0,216.6 L435.1,220.8 L435.3,216.0 L435.6,217.1 L435.6,221.7 L435.8,208.4 L435.9,200.0 L436.1,196.9 L436.3,194.7 L436.6,194.3 L436.7,194.3 L436.8,202.3 L437.1,226.7 L437.1,231.7 L437.3,231.7 L437.6,229.6 L437.8,231.7 L438.1,231.7 L438.1,231.7 L438.3,219.1 L438.4,209.3 L438.6,209.3 L438.8,209.3 L439.1,209.3 L439.3,209.3 L439.6,209.3 L439.6,209.6 L439.8,211.4 L440.1,213.1 L440.3,216.9 L440.6,212.6 L440.7,216.5 L440.8,212.7 L441.1,218.7 L441.3,221.5 L441.6,224.7 L441.8,230.3 L442.0,230.7 L442.1,233.9 L442.3,236.1 L442.6,235.2 L442.8,232.9 L443.1,231.4 L443.3,232.0 L443.6,234.0 L443.7,235.3 L443.8,237.2 L444.1,237.2 L444.1,237.2 L444.3,228.5 L444.5,213.4 L444.6,211.7 L444.8,207.2 L445.0,201.3 L445.1,205.4 L445.3,202.0 L445.6,205.9 L445.8,201.3 L445.8,204.5 L445.9,228.8 L446.1,230.0 L446.3,230.7 L446.6,230.7 L446.7,230.7 L446.8,219.4 L447.1,210.1 L447.3,195.1 L447.5,195.1 L447.6,197.8 L447.8,195.9 L448.1,191.7 L448.3,189.3 L448.6,195.9 L448.8,197.8 L449.1,194.0 L449.3,194.3 L449.6,188.9 L449.8,186.8 L449.9,186.8 L450.1,186.8 L450.3,186.8 L450.6,186.8 L450.8,189.7 L451.1,188.3 L451.1,188.0 L451.3,188.5 L451.6,188.5 L451.8,192.2 L452.0,197.5 L452.1,192.1 L452.3,205.0 L452.5,214.6 L452.6,215.7 L452.8,212.0 L453.1,206.8 L453.1,201.8 L453.2,189.3 L453.3,193.3 L453.6,194.3 L453.8,194.3 L453.8,194.3 L454.1,194.3 L454.3,194.3 L454.5,196.7 L454.6,203.6 L454.8,211.7 L455.1,216.7 L455.3,223.6 L455.6,225.9 L455.7,229.7 L455.8,232.4 L456.1,240.7 L456.3,245.9 L456.5,250.0 L456.6,250.7 L456.8,254.1 L457.1,268.7 L457.3,273.5 L457.6,277.4 L457.7,277.4 L457.8,277.4 L458.1,277.4 L458.3,277.4 L458.6,277.4 L458.8,277.4 L458.9,277.4 L459.1,277.4 L459.3,273.2 L459.6,267.8 L459.8,267.8 L460.1,267.8 L460.3,261.3 L460.6,258.9 L460.8,256.5 L461.1,255.8 L461.3,255.5 L461.6,252.2 L461.8,249.3 L461.9,250.9 L462.1,254.4 L462.3,252.4 L462.6,252.6 L462.8,252.6 L463.1,253.8 L463.1,254.0 L463.3,252.1 L463.6,257.4 L463.8,263.3 L464.1,261.2 L464.3,271.5 L464.6,279.4 L464.8,284.3 L465.1,287.4 L465.3,287.4 L465.6,285.9 L465.8,284.4 L466.1,284.0 L466.1,285.9 L466.3,286.1 L466.6,287.4 L466.8,285.1 L467.1,287.4 L467.3,287.4 L467.6,287.4 L467.8,287.4 L468.1,287.4 L468.3,286.1 L468.6,283.9 L468.8,282.4 L469.1,279.7 L469.3,280.0 L469.6,279.4 L469.8,279.6 L470.1,276.7 L470.3,276.7 L470.6,276.4 L470.8,277.2 L471.1,273.5 L471.3,274.6 L471.6,276.9 L471.7,277.2 L471.8,273.5 L472.1,269.3 L472.3,266.9 L472.6,268.1 L472.8,271.0 L473.1,265.8 L473.3,260.1 L473.6,259.6 L473.8,257.8 L474.1,252.0 L474.3,248.2 L474.6,247.5 L474.8,249.0 L475.0,243.0 L475.1,242.0 L475.3,243.8 L475.6,240.8 L475.8,241.9 L476.1,242.8 L476.3,241.9 L476.6,239.0 L476.8,239.1 L477.1,238.2 L477.3,238.9 L477.6,237.3 L477.7,238.7 L477.8,237.3 L478.1,237.3 L478.3,237.3 L478.6,239.0 L478.8,237.3 L478.9,238.9 L479.1,238.0 L479.3,242.9 L479.6,250.2 L479.8,247.6 L480.0,249.4 L480.1,245.0 L480.3,250.7 L480.6,252.7 L480.8,252.7 L480.9,251.4 L481.1,252.4 L481.3,252.7 L481.6,252.7 L481.8,252.7 L482.1,248.1 L482.1,247.2 L482.3,249.0 L482.4,243.4 L482.6,246.3 L482.8,250.9 L483.1,249.1 L483.3,250.8 L483.6,246.9 L483.6,243.4 L483.8,246.3 L484.1,251.6 L484.2,255.4 L484.3,257.4 L484.6,257.3 L484.8,257.2 L485.1,257.4 L485.3,257.4 L485.4,257.4 L485.6,257.4 L485.8,250.7 L485.9,246.0 L486.1,243.7 L486.3,247.3 L486.6,246.3 L486.8,243.7 L487.1,243.7 L487.1,243.7 L487.3,246.2 L487.6,257.6 L487.6,253.9 L487.8,256.9 L488.1,257.2 L488.3,255.0 L488.6,256.0 L488.8,256.0 L489.1,252.6 L489.3,244.9 L489.4,244.1 L489.6,242.8 L489.8,242.8 L490.1,242.8 L490.3,245.0 L490.6,244.4 L490.6,242.8 L490.8,250.2 L491.1,246.2 L491.2,248.5 L491.3,253.4 L491.6,255.5 L491.8,254.4 L492.1,248.9 L492.3,255.5 L492.4,255.5 L492.6,249.1 L492.8,244.6 L492.9,246.0 L493.1,242.8 L493.3,242.8 L493.6,243.5 L493.8,242.8 L494.1,242.8 L494.1,242.8 L494.3,248.9 L494.6,257.6 L494.6,258.5 L494.8,258.5 L495.1,258.5 L495.3,258.5 L495.6,257.3 L495.8,254.9 L496.1,249.0 L496.3,244.3 L496.4,243.4 L496.6,243.4 L496.8,244.7 L497.1,244.6 L497.3,249.5 L497.6,246.2 L497.6,250.0 L497.8,249.5 L498.1,256.1 L498.2,250.6 L498.3,253.3 L498.6,253.6 L498.8,253.9 L499.1,252.9 L499.3,252.6 L499.4,251.1 L499.6,245.3 L499.8,245.3 L499.9,245.3 L500.1,245.3 L500.3,245.3 L500.6,245.3 L500.8,246.2 L501.1,245.3 L501.1,245.3 L501.3,253.7 L501.6,257.1 L501.6,257.1 L501.8,257.1 L502.1,257.1 L502.3,257.1 L502.6,257.1 L502.8,257.1 L503.1,252.1 L503.3,248.9 L503.4,247.8 L503.6,245.9 L503.8,248.0 L504.1,246.8 L504.3,248.5 L504.6,251.2 L504.6,251.3 L504.8,255.3 L505.1,253.2 L505.2,251.4 L505.3,251.1 L505.6,254.5 L505.8,256.6 L506.1,252.8 L506.3,255.4 L506.4,252.7 L506.6,248.2 L506.8,244.4 L506.9,245.2 L507.1,246.0 L507.3,248.7 L507.6,246.0 L507.8,248.4 L508.1,250.4 L508.1,248.6 L508.3,252.9 L508.6,254.3 L508.6,251.3 L508.8,251.4 L509.1,251.6 L509.3,255.8 L509.6,255.0 L509.8,255.8 L510.1,255.2 L510.3,250.4 L510.4,250.0 L510.6,245.2 L510.8,247.1 L511.1,246.8 L511.3,244.4 L511.6,244.9 L511.6,246.9 L511.8,252.1 L512.0,258.7 L512.2,258.7 L512.3,258.7 L512.5,258.7 L512.8,258.7 L513.0,258.7 L513.3,255.9 L513.4,252.0 L513.5,252.3 L513.8,244.1 L513.9,244.1 L514.0,244.1 L514.3,244.1 L514.5,244.1 L514.8,244.1 L515.0,244.1 L515.1,244.1 L515.3,244.1 L515.5,245.2 L515.8,245.8 L516.0,246.8 L516.3,244.6 L516.5,244.6 L516.7,245.0 L516.8,245.2 L517.0,245.7 L517.3,250.0 L517.5,246.8 L517.8,247.4 L518.0,249.2 L518.3,249.6 L518.5,254.5 L518.8,256.6 L519.0,256.2 L519.3,255.9 L519.5,261.9 L519.8,261.5 L520.0,265.2 L520.0,266.7 L520.3,261.7 L520.5,261.6 L520.8,264.8 L521.0,268.1 L521.3,271.6 L521.5,274.2 L521.8,276.5 L522.0,275.0 L522.3,274.7 L522.5,276.5 L522.7,276.2 L522.8,276.5 L523.0,275.0 L523.3,275.9 L523.5,275.7 L523.8,273.2 L523.9,275.6 L524.0,275.8 L524.3,275.2 L524.5,272.6 L524.8,272.0 L525.0,275.0 L525.3,272.3 L525.5,269.0 L525.8,267.3 L526.0,265.8 L526.3,267.2 L526.5,267.1 L526.7,265.5 L526.8,264.0 L527.0,268.1 L527.3,262.6 L527.5,267.0 L527.7,263.6 L527.8,262.6 L528.0,263.2 L528.3,263.7 L528.5,262.6 L528.8,264.4 L528.9,262.6 L529.0,262.6 L529.3,267.7 L529.5,269.4 L529.8,267.7 L530.0,273.7 L530.0,279.3 L530.3,286.8 L530.5,288.3 L530.8,298.0 L531.0,302.5 L531.3,307.0 L531.5,312.7 L531.8,310.8 L532.0,309.1 L532.3,310.0 L532.5,314.8 L532.8,311.6 L533.0,317.0 L533.3,308.1 L533.5,314.6 L533.8,313.8 L534.0,319.4 L534.3,324.6 L534.5,322.1 L534.8,325.5 L535.0,329.8 L535.3,334.7 L535.5,333.3 L535.8,333.2 L536.0,330.9 L536.3,346.6 L536.5,347.3 L536.8,348.6 L536.9,344.3 L537.0,353.7 L537.3,358.3 L537.5,370.8 L537.8,378.8 L538.0,381.9 L538.0,384.5 L538.3,385.7 L538.5,392.0 L538.8,397.7 L538.8,395.5 L539.0,398.2 L539.3,399.4 L539.5,402.7 L539.8,391.1 L540.0,393.0 L540.0,391.9 L540.3,389.8 L540.5,390.1 L540.8,388.7 L541.0,384.9 L541.3,379.3 L541.5,377.8 L541.8,374.9 L542.0,364.4 L542.0,365.4 L542.3,361.3 L542.5,361.3 L542.8,361.3 L543.0,361.8 L543.3,361.8 L543.5,361.3 L543.5,361.3 L543.8,361.3 L544.0,361.3 L544.3,362.1 L544.5,364.7 L544.7,365.8 L544.8,363.2 L545.0,362.7 L545.3,361.6 L545.5,364.2 L545.8,366.7 L546.0,366.7 L546.3,359.8 L546.5,357.8 L546.6,356.4 L546.8,349.1 L547.0,334.4 L547.2,326.7 L547.3,332.5 L547.5,325.3 L547.8,320.2 L548.0,326.6 L548.3,323.9 L548.5,317.5 L548.8,308.5 L549.0,305.0 L549.3,303.3 L549.5,302.0 L549.8,303.9 L550.0,307.7 L550.3,305.2 L550.5,301.9 L550.7,301.9 L550.8,305.0 L551.0,301.9 L551.3,302.0 L551.5,302.3 L551.8,304.3 L551.9,302.2 L552.0,305.9 L552.3,311.2 L552.5,312.1 L552.8,312.6 L553.0,315.1 L553.3,315.0 L553.5,318.9 L553.8,322.0 L554.0,323.7 L554.3,325.7 L554.5,325.7 L554.8,325.4 L555.0,325.7 L555.0,325.7 L555.3,325.7 L555.5,322.0 L555.8,319.4 L556.0,314.1 L556.3,308.8 L556.5,310.6 L556.8,311.7 L557.0,311.2 L557.3,309.9 L557.5,309.5 L557.8,306.7 L558.0,306.0 L558.0,307.2 L558.3,318.5 L558.5,326.6 L558.8,333.9 L558.9,343.3 L559.0,337.2 L559.3,343.3 L559.5,343.3 L559.8,343.3 L560.0,343.3 L560.1,343.3 L560.3,339.0 L560.5,337.0 L560.8,333.4 L561.0,328.1 L561.3,330.2 L561.5,323.7 L561.8,319.5 L562.0,319.7 L562.3,314.6 L562.5,310.8 L562.6,312.5 L562.8,309.8 L563.0,304.0 L563.3,303.9 L563.5,302.6 L563.8,308.0 L564.0,300.5 L564.3,302.6 L564.5,296.8 L564.8,294.1 L565.0,291.8 L565.3,291.8 L565.5,292.7 L565.6,296.4 L565.8,292.1 L566.0,293.2 L566.3,292.9 L566.5,292.3 L566.8,289.6 L567.0,290.2 L567.3,289.1 L567.5,289.0 L567.8,287.9 L568.0,288.4 L568.3,289.1 L568.5,288.8 L568.8,288.0 L569.0,288.3 L569.3,288.0 L569.5,286.5 L569.8,287.5 L570.0,284.9 L570.3,285.5 L570.5,285.8 L570.8,286.4 L571.0,286.1 L571.2,284.6 L571.3,283.5 L571.5,283.3 L571.8,283.8 L572.0,283.6 L572.3,283.3 L572.4,284.0 L572.5,283.3 L572.8,283.4 L573.0,283.6 L573.3,287.6 L573.5,288.7 L573.8,288.6 L574.0,285.6 L574.3,287.1 L574.5,287.8 L574.5,288.4 L574.8,288.7 L575.0,288.0 L575.3,288.7 L575.3,288.7 L575.5,279.4 L575.8,265.8 L576.0,261.8 L576.3,262.8 L576.5,256.2 L576.8,254.8 L577.0,251.0 L577.3,249.3 L577.5,249.3 L577.7,249.3 L577.8,249.3 L578.0,250.9 L578.3,249.3 L578.5,249.4 L578.8,250.1 L578.9,251.3 L579.0,249.6 L579.3,251.9 L579.4,252.4 L579.5,252.4 L579.8,252.4 L580.0,252.4 L580.3,252.4 L580.5,252.4 L580.6,252.4 L580.8,249.2 L581.0,243.9 L581.3,243.1 L581.5,235.2 L581.8,235.9 L582.0,237.4 L582.3,239.4 L582.5,234.9 L582.8,237.6 L583.0,231.0 L583.3,228.0 L583.5,218.5 L583.8,215.7 L584.0,212.8 L584.3,218.1 L584.5,216.7 L584.8,209.1 L585.0,209.2 L585.3,207.9 L585.5,203.5 L585.8,200.7 L586.0,196.8 L586.3,192.5 L586.5,187.6 L586.8,187.6 L586.9,189.6 L587.0,192.9 L587.3,190.6 L587.5,188.5 L587.8,187.7 L588.0,191.1 L588.1,191.2 L588.3,195.3 L588.5,205.8 L588.8,213.7 L589.0,224.6 L589.2,227.9 L589.3,228.3 L589.5,244.2 L589.8,261.6 L589.9,260.6 L590.0,261.6 L590.3,264.0 L590.5,262.7 L590.7,260.9 L590.8,264.7 L591.0,257.3 L591.3,248.2 L591.5,231.7 L591.8,226.7 L592.0,212.3 L592.0,212.3 L592.3,213.8 L592.5,215.9 L592.8,212.3 L593.0,212.3 L593.0,212.7 L593.3,213.9 L593.3,219.7 L593.5,222.6 L593.8,221.1 L594.0,222.7 L594.3,222.7 L594.3,222.7 L594.5,207.7 L594.5,211.5 L594.8,206.9 L595.0,206.2 L595.3,203.5 L595.5,207.3 L595.5,208.9 L595.7,219.7 L595.8,219.7 L596.0,219.7 L596.3,219.7 L596.5,219.7 L596.7,219.7 L596.8,218.6 L597.0,206.4 L597.0,202.3 L597.3,203.6 L597.5,203.8 L597.8,199.1 L598.0,199.4 L598.0,203.0 L598.2,214.3 L598.3,214.7 L598.5,214.3 L598.8,208.3 L599.0,204.5 L599.2,206.8 L599.3,199.1 L599.5,189.8 L599.5,190.1 L599.8,196.4 L600.0,194.7 L600.3,194.7 L600.5,190.4 L600.5,196.1 L600.8,205.7 L600.8,205.7 L601.0,203.1 L601.3,205.7 L601.5,205.7 L601.6,205.7 L601.8,198.7 L602.0,190.2 L602.3,185.0 L602.5,183.8 L602.8,177.9 L602.9,177.6 L603.0,178.6 L603.3,177.6 L603.5,180.6 L603.7,179.7 L603.8,190.2 L604.0,202.6 L604.2,212.5 L604.3,220.7 L604.5,226.0 L604.8,244.7 L604.9,241.6 L605.0,238.3 L605.3,240.7 L605.5,243.7 L605.7,244.7 L605.8,242.9 L606.0,237.2 L606.3,231.7 L606.5,226.3 L606.5,217.7 L606.8,221.7 L607.0,220.1 L607.3,217.4 L607.4,215.3 L607.5,215.5 L607.8,215.7 L608.0,215.5 L608.2,219.5 L608.3,217.2 L608.4,224.6 L608.5,221.5 L608.8,223.0 L609.0,226.7 L609.2,224.3 L609.3,219.6 L609.5,205.6 L609.6,207.6 L609.8,205.3 L610.0,205.3 L610.3,205.3 L610.4,205.3 L610.5,212.6 L610.6,218.7 L610.8,216.3 L611.0,216.5 L611.3,217.6 L611.4,218.7 L611.5,210.6 L611.8,204.1 L611.9,206.5 L612.0,201.3 L612.3,202.9 L612.5,196.3 L612.7,199.6 L612.8,202.9 L612.9,208.7 L613.0,207.2 L613.3,205.8 L613.5,202.2 L613.7,203.2 L613.8,206.8 L614.0,203.0 L614.3,192.8 L614.4,187.6 L614.5,187.6 L614.8,187.6 L615.0,187.6 L615.3,189.6 L615.5,189.5 L615.6,187.6 L615.8,187.9 L616.0,198.7 L616.3,205.1 L616.5,204.9 L616.8,213.3 L617.0,212.9 L617.3,220.6 L617.5,220.6 L617.5,220.7 L617.8,226.2 L618.0,230.2 L618.3,235.6 L618.5,233.5 L618.8,241.6 L619.0,246.6 L619.3,246.0 L619.5,248.2 L619.8,246.3 L620.0,247.7 L620.0,243.7 L620.3,247.6 L620.5,251.0 L620.8,257.6 L621.0,260.8 L621.3,263.0 L621.5,260.9 L621.8,260.7 L622.0,260.8 L622.3,263.5 L622.5,259.9 L622.7,264.6 L622.8,261.9 L623.0,262.7 L623.3,264.0 L623.5,264.0 L623.8,266.5 L623.9,266.5 L624.0,266.5 L624.3,266.5 L624.5,263.9 L624.8,262.8 L625.0,264.6 L625.3,259.3 L625.5,257.0 L625.8,253.1 L626.0,251.8 L626.1,251.0 L626.3,251.3 L626.5,252.7 L626.8,253.7 L627.0,253.1 L627.3,253.0 L627.5,255.8 L627.8,255.1 L628.0,252.9 L628.3,258.0 L628.5,256.9 L628.6,259.0 L628.8,257.4 L629.0,259.0 L629.3,258.1 L629.5,259.0 L629.8,259.0 L630.0,256.5 L630.3,259.0 L630.5,253.7 L630.8,246.0 L631.0,249.4 L631.3,250.8 L631.5,247.8 L631.8,237.9 L632.0,239.1 L632.3,238.6 L632.5,237.5 L632.8,236.5 L633.0,233.5 L633.3,232.8 L633.5,236.8 L633.8,239.1 L634.0,236.2 L634.3,233.5 L634.5,233.9 L634.8,235.1 L635.0,235.0 L635.3,230.8 L635.5,230.7 L635.8,230.3 L636.0,232.4 L636.3,232.6 L636.5,231.7 L636.8,231.3 L637.0,228.7 L637.3,230.0 L637.5,227.1 L637.7,226.6 L637.8,227.2 L638.0,225.3 L638.3,224.6 L638.5,224.3 L638.8,224.3 L638.9,224.3 L639.0,225.7 L639.3,232.9 L639.5,230.0 L639.8,237.3 L640.0,244.0 L640.2,246.7 L640.3,249.7 L640.5,249.7 L640.8,249.7 L641.0,249.1 L641.3,247.5 L641.4,248.4 L641.5,249.2 L641.8,243.3 L642.0,245.3 L642.3,238.6 L642.5,240.1 L642.8,238.7 L643.0,237.0 L643.3,241.0 L643.5,234.7 L643.8,230.6 L644.0,229.7 L644.3,229.8 L644.5,221.6 L644.8,221.5 L645.0,218.3 L645.2,219.2 L645.3,222.0 L645.5,220.8 L645.8,220.0 L646.0,220.0 L646.3,218.3 L646.4,218.3 L646.5,221.2 L646.8,225.3 L647.0,227.2 L647.3,228.6 L647.5,232.7 L647.8,241.4 L648.0,243.5 L648.3,250.7 L648.5,243.7 L648.6,245.0 L648.8,247.8 L649.0,248.7 L649.3,247.3 L649.5,247.2 L649.8,250.7 L650.0,245.1 L650.3,241.1 L650.5,237.7 L650.8,236.8 L651.0,239.6 L651.3,240.5 L651.5,234.3 L651.8,236.0 L651.9,234.3 L652.0,234.3 L652.3,236.1 L652.5,235.6 L652.8,234.3 L653.0,234.3 L653.1,234.3 L653.3,234.3 L653.5,234.3 L653.8,235.5 L654.0,236.1 L654.3,234.5 L654.5,237.4 L654.8,236.4 L655.0,236.5 L655.3,236.6 L655.5,238.6 L655.8,236.8 L656.0,241.2 L656.3,250.6 L656.5,250.5 L656.8,247.5 L657.0,251.7 L657.3,251.5 L657.5,253.9 L657.7,257.3 L657.8,258.7 L658.0,258.0 L658.3,258.9 L658.5,258.0 L658.8,253.6 L658.9,258.5 L659.0,247.4 L659.3,235.8 L659.4,225.6 L659.5,227.7 L659.8,228.0 L660.0,225.1 L660.3,225.1 L660.5,225.1 L660.6,226.0 L660.8,225.1 L661.0,236.4 L661.3,246.7 L661.5,253.3 L661.7,257.9 L661.8,257.0 L662.0,263.4 L662.3,270.7 L662.5,277.1 L662.5,280.2 L662.8,285.3 L663.0,289.5 L663.1,289.6 L663.3,294.7 L663.5,292.2 L663.8,293.4 L664.0,298.2 L664.3,301.9 L664.5,306.3 L664.8,301.9 L665.0,308.6 L665.2,312.9 L665.3,320.3 L665.5,319.7 L665.8,327.6 L666.0,337.4 L666.3,345.7 L666.5,345.7 L666.8,345.7 L667.0,345.7 L667.3,345.7 L667.5,345.4 L667.5,341.5 L667.8,343.1 L668.0,334.7 L668.3,327.0 L668.5,322.0 L668.8,315.6 L669.0,316.3 L669.2,314.6 L669.3,318.7 L669.5,317.5 L669.8,315.1 L670.0,316.4 L670.3,312.8 L670.4,312.2 L670.5,313.4 L670.8,317.5 L671.0,325.4 L671.3,325.2 L671.5,329.8 L671.8,332.6 L671.9,329.3 L672.0,328.0 L672.3,331.3 L672.5,336.0 L672.8,339.1 L673.0,342.2 L673.3,343.1 L673.5,342.6 L673.8,345.9 L674.0,343.5 L674.3,341.6 L674.5,344.6 L674.8,344.3 L675.0,347.1 L675.0,347.6 L675.3,348.6 L675.5,350.0 L675.8,349.7 L676.0,349.8 L676.2,346.5 L676.3,348.4 L676.5,344.7 L676.8,346.2 L677.0,336.1 L677.3,334.7 L677.5,337.4 L677.8,330.5 L678.0,330.3 L678.3,331.9 L678.5,332.2 L678.8,327.2 L679.0,327.5 L679.1,328.9 L679.3,326.3 L679.5,328.8 L679.8,328.1 L680.0,327.6 L680.3,326.1 L680.5,326.9 L680.8,326.3 L681.0,327.7 L681.3,326.9 L681.5,323.9 L681.8,322.7 L682.0,324.0 L682.3,321.9 L682.5,321.8 L682.8,321.6 L682.9,320.5 L683.0,319.3 L683.3,319.3 L683.5,319.3 L683.8,319.8 L684.0,319.3 L684.1,321.4 L684.3,321.5 L684.5,320.8 L684.8,320.5 L685.0,324.0 L685.3,322.2 L685.5,321.9 L685.8,331.4 L686.0,335.5 L686.3,337.7 L686.5,339.0 L686.8,340.2 L687.0,333.6 L687.3,339.0 L687.5,343.3 L687.8,343.9 L687.9,335.4 L688.0,342.9 L688.3,349.6 L688.5,348.4 L688.8,350.9 L689.0,355.8 L689.3,356.9 L689.5,362.8 L689.8,364.0 L690.0,368.0 L690.2,368.2 L690.3,363.0 L690.5,363.7 L690.8,379.7 L691.0,380.4 L691.3,385.5 L691.5,389.1 L691.8,392.9 L692.0,394.2 L692.3,391.8 L692.5,391.9 L692.8,386.1 L693.0,388.8 L693.3,394.3 L693.5,388.7 L693.8,393.0 L694.0,398.1 L694.3,403.1 L694.5,399.8 L694.8,398.8 L695.0,395.7 L695.2,396.5 L695.3,401.8 L695.5,414.6 L695.8,412.8 L696.0,418.5 L696.0,418.5 L696.3,418.5 L696.5,418.5 L696.8,412.8 L697.0,414.6 L697.2,416.6 L697.3,418.5 L697.5,418.5 L697.8,417.2 L698.0,406.3 L698.3,400.4 L698.5,395.9 L698.8,387.9 L699.0,381.4 L699.0,378.4 L699.3,375.9 L699.5,374.8 L699.8,378.6 L700.0,375.8 L700.2,374.8 L700.3,374.8 L700.5,378.8 L700.8,384.1 L701.0,394.6 L701.3,395.7 L701.5,397.4 L701.8,398.2 L701.9,400.5 L702.0,399.5 L702.3,400.8 L702.5,402.5 L702.8,402.5 L703.0,401.2 L703.1,402.5 L703.3,402.5 L703.5,402.5 L703.8,402.5 L704.0,401.6 L704.3,399.7 L704.5,400.3 L704.8,398.6 L705.0,397.3 L705.3,390.6 L705.4,388.2 L705.5,383.6 L705.8,385.6 L706.0,385.7 L706.3,380.5 L706.5,380.3 L706.8,385.0 L707.0,383.2 L707.3,374.9 L707.5,371.8 L707.8,371.8 L708.0,368.7 L708.3,367.4 L708.5,368.9 L708.8,367.4 L709.0,363.4 L709.3,364.3 L709.5,363.0 L709.8,362.4 L710.0,360.6 L710.3,357.7 L710.5,356.7 L710.8,356.4 L711.0,355.9 L711.3,355.9 L711.5,355.9 L711.8,355.9 L712.0,355.9 L712.1,355.9 L712.3,355.9 L712.5,355.9 L712.8,355.9 L713.0,356.8 L713.3,355.9 L713.5,358.2 L713.8,359.6 L714.0,360.7 L714.3,356.2 L714.5,356.2 L714.8,359.4 L715.0,367.1 L715.3,366.1 L715.5,369.4 L715.8,370.7 L716.0,372.8 L716.3,373.3 L716.4,371.6 L716.5,372.5 L716.8,372.3 L717.0,372.1 L717.3,370.9 L717.5,369.7 L717.6,368.3 L717.8,365.3 L718.0,373.3 L718.3,373.3 L718.5,371.2 L718.8,369.8 L719.0,362.3 L719.3,358.8 L719.4,358.8 L719.5,358.8 L719.8,358.8 L720.0,358.8 L720.3,358.8 L720.5,358.8 L720.6,358.8 L720.8,358.8 L721.0,358.8 L721.3,359.6 L721.5,359.7 L721.8,360.1 L722.0,361.1 L722.3,365.0 L722.3,368.7 L722.5,368.3 L722.8,368.7 L723.0,365.9 L723.3,367.7 L723.5,363.8 L723.5,363.0 L723.8,359.5 L724.0,357.0 L724.3,355.4 L724.5,350.6 L724.8,345.2 L725.0,345.1 L725.3,345.9 L725.5,343.4 L725.8,345.7 L726.0,348.7 L726.3,341.9 L726.5,342.2 L726.8,343.5 L727.0,336.9 L727.2,337.8 L727.3,337.6 L727.5,335.3 L727.8,338.0 L728.0,337.8 L728.3,336.3 L728.5,336.8 L728.8,337.2 L729.0,337.5 L729.3,337.2 L729.5,336.5 L729.8,333.1 L730.0,332.2 L730.3,332.4 L730.5,329.4 L730.8,332.6 L731.0,331.2 L731.3,328.9 L731.5,327.4 L731.8,327.8 L732.0,328.2 L732.3,327.2 L732.5,326.7 L732.8,325.0 L733.0,323.8 L733.1,324.9 L733.3,322.9 L733.5,324.9 L733.8,322.9 L734.0,322.0 L734.3,321.9 L734.5,324.2 L734.8,322.7 L735.0,319.9 L735.3,316.2 L735.5,311.3 L735.8,309.3 L736.0,311.1 L736.3,309.9 L736.5,306.8 L736.8,304.9 L737.0,304.9 L737.3,304.9 L737.5,305.4 L737.8,306.1 L738.0,304.9 L738.0,304.9 L738.3,306.5 L738.5,305.3 L738.8,308.8 L739.0,309.7 L739.3,308.9 L739.5,307.6 L739.8,313.4 L740.0,316.0 L740.3,315.4 L740.5,314.5 L740.8,316.4 L741.0,317.5 L741.3,316.6 L741.5,317.7 L741.5,317.7 L741.8,311.8 L742.0,314.6 L742.3,311.0 L742.5,309.9 L742.8,307.3 L743.0,301.3 L743.3,296.2 L743.5,295.8 L743.8,300.3 L744.0,294.7 L744.1,298.2 L744.3,297.5 L744.5,295.2 L744.8,295.6 L745.0,296.7 L745.3,294.7 L745.5,294.7 L745.8,296.2 L746.0,296.2 L746.3,302.6 L746.5,299.1 L746.8,304.2 L747.0,305.8 L747.3,305.4 L747.5,310.4 L747.6,313.9 L747.8,314.0 L748.0,313.1 L748.3,316.8 L748.5,314.5 L748.8,319.2 L749.0,322.2 L749.3,327.4 L749.5,328.9 L749.8,328.8 L750.0,328.9 L750.3,328.8 L750.5,325.7 L750.8,331.2 L751.0,332.5 L751.3,331.6 L751.5,328.3 L751.8,335.8 L752.0,337.1 L752.0,332.4 L752.3,340.4 L752.5,351.4 L752.8,351.5 L752.9,351.5 L753.0,351.5 L753.3,349.9 L753.5,351.5 L753.8,351.5 L754.0,351.5 L754.1,351.5 L754.3,351.5 L754.5,345.4 L754.8,343.5 L755.0,341.1 L755.3,331.7 L755.5,324.3 L755.8,323.8 L756.0,325.2 L756.3,325.3 L756.5,326.2 L756.8,323.9 L757.0,324.8 L757.0,323.9 L757.3,324.9 L757.5,326.0 L757.8,324.6 L758.0,325.3 L758.3,324.3 L758.5,326.4 L758.8,325.9 L759.0,326.4 L759.3,328.1 L759.5,327.8 L759.8,331.0 L760.0,330.0 L760.3,332.0 L760.5,332.3 L760.6,330.8 L760.8,330.9 L761.0,330.4 L761.3,330.4 L761.5,330.3 L761.8,332.3 L762.0,330.5 L762.3,332.3 L762.5,329.6 L762.8,320.4 L763.0,310.4 L763.3,313.9 L763.5,308.3 L763.8,309.2 L764.0,311.1 L764.1,311.2 L764.3,309.8 L764.5,309.1 L764.8,309.4 L765.0,308.7 L765.3,308.3 L765.5,308.7 L765.8,314.7 L766.0,313.0 L766.3,316.0 L766.5,313.1 L766.8,313.4 L767.0,312.0 L767.3,315.8 L767.5,321.1 L767.7,323.2 L767.8,322.3 L768.0,323.5 L768.3,323.1 L768.5,323.7 L768.8,324.0 L768.9,324.0 L769.0,318.2 L769.3,315.5 L769.5,319.0 L769.8,318.0 L770.0,323.8 L770.3,319.6 L770.5,315.8 L770.8,318.9 L771.0,317.6 L771.3,318.5 L771.5,317.3 L771.8,313.1 L772.0,312.8 L772.3,307.8 L772.5,305.3 L772.8,303.1 L773.0,302.5 L773.0,305.1 L773.3,302.8 L773.5,303.1 L773.8,301.1 L774.0,302.6 L774.3,296.1 L774.5,296.1 L774.8,297.1 L775.0,294.7 L775.3,297.6 L775.5,297.2 L775.8,299.0 L776.0,299.1 L776.3,298.2 L776.5,295.6 L776.8,291.6 L777.0,290.9 L777.3,289.6 L777.5,290.0 L777.8,288.8 L777.9,293.5 L778.0,289.7 L778.3,290.9 L778.5,289.8 L778.8,289.1 L779.0,292.5 L779.1,291.3 L779.3,289.3 L779.5,295.8 L779.8,299.0 L780.0,295.9 L780.1,300.5 L780.3,300.2 L780.5,302.3 L780.8,308.8 L781.0,313.0 L781.3,314.3 L781.5,321.7 L781.8,321.7 L781.9,321.7 L782.0,321.7 L782.3,321.7 L782.5,319.3 L782.8,317.9 L783.0,316.8 L783.1,321.7 L783.3,320.5 L783.5,318.7 L783.8,316.4 L784.0,318.7 L784.3,317.1 L784.5,320.2 L784.8,319.2 L785.0,318.7 L785.3,316.2 L785.5,314.5 L785.8,311.0 L786.0,309.2 L786.3,303.6 L786.5,303.5 L786.8,303.3 L787.0,303.2 L787.2,304.1 L787.3,304.6 L787.5,306.1 L787.8,306.2 L788.0,306.2 L788.3,305.5 L788.5,304.6 L788.8,304.9 L789.0,304.0 L789.3,303.2 L789.5,304.4 L789.8,304.5 L790.0,303.8 L790.3,304.2 L790.5,304.1 L790.8,303.2 L791.0,303.2 L791.3,303.3 L791.5,303.3 L791.8,302.4 L792.0,301.3 L792.3,301.4 L792.5,302.4 L792.5,303.0 L792.8,303.2 L793.0,303.7 L793.3,301.9 L793.5,301.9 L793.7,302.5 L793.8,304.6 L794.0,305.0 L794.3,306.7 L794.5,307.1 L794.8,311.8 L795.0,305.6 L795.3,307.2 L795.5,315.1 L795.8,314.4 L796.0,309.0 L796.3,311.4 L796.5,307.8 L796.7,308.4 L796.8,312.7 L797.0,323.1 L797.3,326.5 L797.5,330.6 L797.8,335.6 L798.0,337.2 L798.3,335.9 L798.4,337.0 L798.5,338.2 L798.8,337.4 L799.0,336.8 L799.3,336.4 L799.5,332.6 L799.6,331.5 L799.8,331.6 L800.0,329.5 L800.3,328.6 L800.5,331.8 L800.8,328.9 L801.0,325.1 L801.3,317.8 L801.5,313.2 L801.8,313.9 L802.0,313.2 L802.0,313.2 L802.3,313.2 L802.5,313.2 L802.8,313.2 L803.0,315.0 L803.2,313.8 L803.3,313.5 L803.5,315.8 L803.8,317.2 L804.0,323.6 L804.3,322.0 L804.5,320.6 L804.8,321.0 L805.0,324.1 L805.3,325.6 L805.5,326.4 L805.5,324.3 L805.8,326.4 L806.0,326.4 L806.3,326.4 L806.5,324.6 L806.7,325.4 L806.8,325.9 L807.0,317.0 L807.3,318.0 L807.5,312.8 L807.8,315.7 L808.0,320.0 L808.3,320.7 L808.5,311.7 L808.8,315.6 L809.0,315.7 L809.3,310.9 L809.5,309.6 L809.6,311.7 L809.8,309.2 L810.0,308.2 L810.3,307.1 L810.5,308.7 L810.8,306.1 L811.0,309.6 L811.3,307.5 L811.5,312.2 L811.8,307.9 L812.0,307.8 L812.3,309.3 L812.5,315.0 L812.8,311.1 L813.0,316.6 L813.2,315.7 L813.3,322.0 L813.5,322.1 L813.8,325.7 L814.0,326.5 L814.3,334.7 L814.5,333.0 L814.8,334.0 L815.0,342.4 L815.3,341.7 L815.5,344.3 L815.8,341.8 L816.0,344.3 L816.2,339.0 L816.3,341.5 L816.5,341.7 L816.8,341.5 L817.0,340.6 L817.3,344.7 L817.4,345.3 L817.5,339.9 L817.8,345.3 L818.0,340.0 L818.3,336.9 L818.5,336.4 L818.8,330.6 L819.0,327.3 L819.3,327.3 L819.5,328.0 L819.7,329.7 L819.8,327.3 L820.0,328.4 L820.3,328.3 L820.5,328.6 L820.8,328.4 L820.9,328.6 L821.0,327.5 L821.3,327.3 L821.5,327.3 L821.8,327.3 L822.0,328.4 L822.3,327.4 L822.5,329.6 L822.8,328.7 L823.0,328.3 L823.3,329.4 L823.5,329.9 L823.8,329.3 L824.0,328.3 L824.3,328.3 L824.5,328.4 L824.8,329.3 L825.0,330.8 L825.3,332.5 L825.5,332.1 L825.8,332.0 L826.0,333.1 L826.2,334.6 L826.3,332.9 L826.5,335.4 L826.8,343.9 L827.0,336.4 L827.3,333.7 L827.5,334.4 L827.8,341.5 L828.0,348.1 L828.3,347.6 L828.5,348.9 L828.5,348.9 L828.8,348.9 L829.0,348.4 L829.3,348.3 L829.5,348.3 L829.7,348.9 L829.8,348.9 L830.0,345.8 L830.3,346.5 L830.5,345.1 L830.8,346.4 L831.0,347.1 L831.3,346.3 L831.5,345.4 L831.8,339.8 L832.0,334.4 L832.2,339.1 L832.3,341.0 L832.5,336.9 L832.8,338.7 L833.0,338.3 L833.3,331.8 L833.5,334.1 L833.8,331.6 L834.0,334.0 L834.3,331.7 L834.5,329.9 L834.8,329.7 L835.0,329.7 L835.1,330.3 L835.3,329.7 L835.5,329.7 L835.8,331.4 L836.0,334.5 L836.3,334.6 L836.5,333.1 L836.8,330.6 L837.0,329.7 L837.3,335.5 L837.5,343.1 L837.8,340.2 L838.0,343.0 L838.1,342.9 L838.3,352.8 L838.5,368.0 L838.8,387.7 L838.9,387.9 L839.0,387.9 L839.3,387.9 L839.5,387.9 L839.8,387.9 L840.0,383.5 L840.1,387.9 L840.3,382.6 L840.5,376.9 L840.8,374.4 L841.0,368.2 L841.3,362.3 L841.5,361.8 L841.6,366.0 L841.8,364.2 L842.0,364.7 L842.3,361.9 L842.5,360.8 L842.8,362.9 L843.0,361.9 L843.3,359.8 L843.5,360.2 L843.8,362.0 L844.0,356.4 L844.0,355.1 L844.3,356.0 L844.5,351.6 L844.8,354.0 L845.0,355.2 L845.3,353.2 L845.5,348.1 L845.8,345.4 L846.0,340.9 L846.3,339.1 L846.4,340.0 L846.5,338.6 L846.8,340.7 L847.0,344.6 L847.3,340.2 L847.5,339.1 L847.8,339.2 L848.0,338.6 L848.3,336.2 L848.5,333.9 L848.8,335.4 L849.0,335.2 L849.3,334.5 L849.5,331.2 L849.8,331.9 L849.9,332.7 L850.0,331.0 L850.3,331.3 L850.5,332.6 L850.8,327.7 L851.0,328.4 L851.3,325.1 L851.5,322.5 L851.8,322.9 L852.0,324.4 L852.3,324.1 L852.5,319.5 L852.7,315.8 L852.8,315.6 L853.0,315.2 L853.3,310.8 L853.5,304.5 L853.8,310.9 L854.0,304.5 L854.3,301.8 L854.5,297.5 L854.8,293.6 L855.0,292.3 L855.2,291.9 L855.3,293.1 L855.5,291.9 L855.8,291.9 L856.0,297.0 L856.3,295.0 L856.4,296.7 L856.5,302.7 L856.8,307.9 L857.0,311.6 L857.3,310.7 L857.5,312.3 L857.6,319.9 L857.8,321.7 L858.0,321.7 L858.3,319.7 L858.5,313.1 L858.8,312.6 L859.0,307.0 L859.3,306.3 L859.5,299.9 L859.8,303.1 L860.0,295.5 L860.3,289.1 L860.5,289.3 L860.5,289.7 L860.8,285.0 L861.0,287.1 L861.3,290.3 L861.5,284.7 L861.8,283.3 L862.0,280.3 L862.3,277.7 L862.5,279.2 L862.8,280.9 L863.0,282.0 L863.3,281.1 L863.5,277.7 L863.5,277.7 L863.8,277.7 L864.0,277.7 L864.3,277.7 L864.5,278.2 L864.7,277.7 L864.8,282.8 L865.0,283.8 L865.3,277.7 L865.5,283.3 L865.8,288.2 L866.0,287.9 L866.3,284.4 L866.5,290.9 L866.8,288.3 L867.0,289.5 L867.0,286.1 L867.3,286.0 L867.5,286.0 L867.8,290.4 L868.0,290.9 L868.2,290.9 L868.3,283.9 L868.5,279.6 L868.8,276.3 L869.0,265.4 L869.3,262.3 L869.4,262.3 L869.5,262.6 L869.8,262.9 L870.0,263.6 L870.3,262.3 L870.5,262.3 L870.6,262.3 L870.8,262.7 L871.0,272.7 L871.3,280.9 L871.5,291.9 L871.7,294.2 L871.8,301.3 L872.0,302.1 L872.3,305.1 L872.5,308.0 L872.8,312.0 L873.0,313.0 L873.3,306.8 L873.5,307.8 L873.8,316.9 L874.0,316.9 L874.1,316.9 L874.3,316.9 L874.5,316.9 L874.8,315.9 L875.0,314.5 L875.3,316.9 L875.5,316.3 L875.8,316.9 L876.0,314.0 L876.3,315.1 L876.5,309.5 L876.8,299.2 L877.0,302.1 L877.1,300.1 L877.3,300.8 L877.5,296.7 L877.8,291.7 L878.0,289.6 L878.3,283.1 L878.5,280.1 L878.8,280.1 L879.0,280.1" stroke="#0b1f5c" stroke-width="5" fill="none" stroke-linejoin="round" stroke-linecap="round"/>
<path d="M50.5,183.4 H886" stroke="#5b9bd5" stroke-width="4.8" stroke-dasharray="7.7 10.275" stroke-linecap="round" fill="none" clip-path="url(#cp)"/><rect x="48.2" y="181.0" width="4" height="4.8" fill="#5b9bd5"/>
<path d="M50.5,240.3 H886" stroke="#a5a5a5" stroke-width="4.8" stroke-dasharray="7.7 10.275" stroke-linecap="round" fill="none" clip-path="url(#cp)"/><rect x="48.2" y="237.9" width="4" height="4.8" fill="#a5a5a5"/>
<path d="M48,297.4 H879.8" stroke="#ed7d31" stroke-width="5" fill="none"/>
<path d="M50.5,355.5 H886" stroke="#ffc000" stroke-width="4.8" stroke-dasharray="7.7 10.275" stroke-linecap="round" fill="none" clip-path="url(#cp)"/><rect x="48.2" y="353.1" width="4" height="4.8" fill="#ffc000"/>
<path d="M50.5,412.5 H886" stroke="#70ad47" stroke-width="4.8" stroke-dasharray="7.7 10.275" stroke-linecap="round" fill="none" clip-path="url(#cp)"/><rect x="48.2" y="410.1" width="4" height="4.8" fill="#70ad47"/>
<text x="885" y="290.2" font-size="18">15.32</text>
<path d="M140.6,616.4 H190" stroke="#0b1f5c" stroke-width="5" stroke-linecap="round" fill="none"/>
<text x="196.1" y="620.9" font-size="18">P/E cơ bản</text>
<path d="M376.4,616.4 H427.6" stroke="#ed7d31" stroke-width="5" stroke-linecap="round" fill="none"/>
<text x="433.2" y="620.9" font-size="18">Trung bình</text>
<path d="M610.6,616.4 H660" stroke="#a5a5a5" stroke-width="4.8" stroke-dasharray="7.6 10.4" stroke-linecap="round" fill="none"/>
<text x="667.3" y="620.9" font-size="18">+1 Độ lệch chuẩn</text>
<rect x="0" y="632.85" width="936" height="1.2" fill="#000"/>
</svg>
</body></html>
